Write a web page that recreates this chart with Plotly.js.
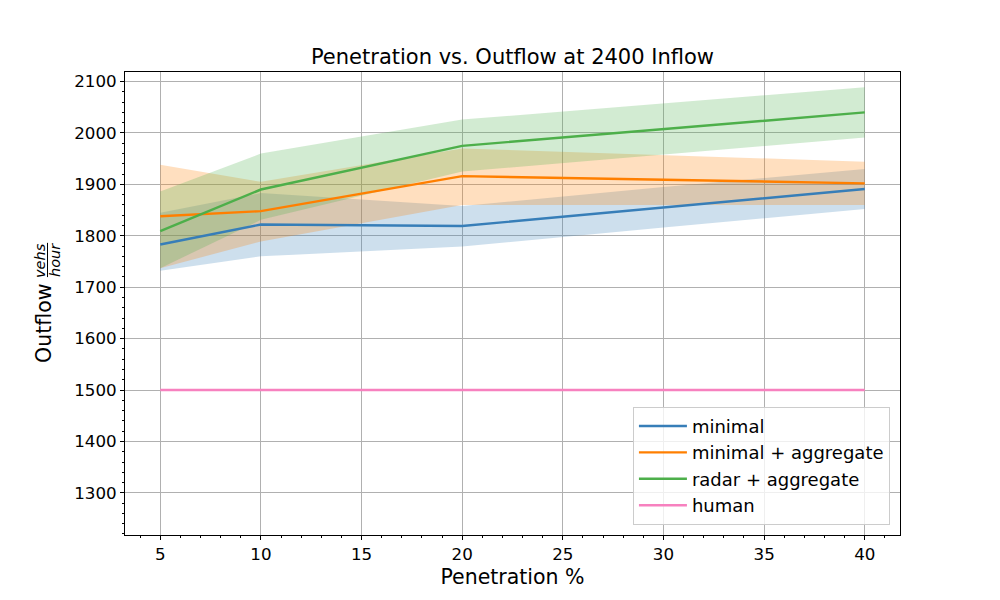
<!DOCTYPE html>
<html>
<head>
<meta charset="utf-8">
<script src="https://cdn.plot.ly/plotly-3.0.1.min.js"></script>
<style>
	body { margin: 0; background: white; }
	#outflow_graph { width: 1000px; height: 600px; }
</style>
</head>
<body>
<div id="outflow_graph"></div>
<script>
const penetration = [5, 10, 20, 30, 40];

const minimal = [1783, 1822, 1819, 1855, 1891];
const minimalLo = [1732, 1760, 1779, 1816, 1852];
const minimalHi = [1845, 1883, 1858, 1895, 1930];

const minimalAgg = [1838, 1848, 1916, 1909, 1902];
const minimalAggLo = [1737, 1789, 1860, 1860, 1860];
const minimalAggHi = [1938, 1905, 1970, 1957, 1944];

const radarAgg = [1809, 1890, 1975, 2008, 2040];
const radarAggLo = [1737, 1831, 1925, 1958, 1991];
const radarAggHi = [1886, 1960, 2026, 2058, 2089];

const human = [1500, 1500, 1500, 1500, 1500];

const FONT = 'DejaVu Sans, sans-serif';

// band first, line later so the lines stay on top
const band = (lo, hi, rgb) => ({
	x: penetration.concat(penetration.slice().reverse()),
	y: hi.concat(lo.slice().reverse()),
	type: 'scatter',
	mode: 'lines',
	fill: 'toself',
	fillcolor: 'rgba(' + rgb + ',0.25)',
	line: {width: 0},
	hoverinfo: 'skip',
	showlegend: false,
});

const line = (name, y, rgb) => ({
	x: penetration,
	y: y,
	name: name,
	type: 'scatter',
	mode: 'lines',
	line: {color: 'rgb(' + rgb + ')', width: 2.4},
});

const BLUE = '55,126,184';
const ORANGE = '255,127,0';
const GREEN = '77,175,74';
const PINK = '247,129,191';

const traces = [
	band(minimalLo, minimalHi, BLUE),
	band(minimalAggLo, minimalAggHi, ORANGE),
	band(radarAggLo, radarAggHi, GREEN),
	line('minimal', minimal, BLUE),
	line('minimal + aggregate', minimalAgg, ORANGE),
	line('radar + aggregate', radarAgg, GREEN),
	line('human', human, PINK),
];

const axis = {
	showline: true,
	mirror: true,
	linecolor: 'black',
	linewidth: 1,
	ticks: 'outside',
	ticklen: 4,
	tickwidth: 1,
	tickcolor: 'black',
	showgrid: true,
	gridcolor: '#b0b0b0',
	gridwidth: 1,
	zeroline: false,
	tickfont: {family: FONT, size: 16.7, color: 'black'},
};

const rotated = (text, x, y, size) => ({
	text: text, xref: 'paper', yref: 'paper', x: x, y: y,
	xanchor: 'center', yanchor: 'middle',
	textangle: -90, showarrow: false,
	font: {family: FONT, size: size, color: 'black'},
});

const layout = {
	width: 1000,
	height: 600,
	margin: {l: 125, r: 100, t: 72, b: 65},
	paper_bgcolor: 'white',
	plot_bgcolor: 'white',
	font: {family: FONT, color: 'black'},
	title: {
		text: 'Penetration vs. Outflow at 2400 Inflow',
		font: {family: FONT, size: 21, color: 'black'},
		x: 0.5, xref: 'paper', xanchor: 'center',
		y: 0.905, yref: 'container', yanchor: 'middle',
	},
	xaxis: Object.assign({}, axis, {
		range: [3.25, 41.75],
		tick0: 5,
		dtick: 5,
		minor: {dtick: 1, ticks: 'outside', ticklen: 2, tickcolor: 'black', showgrid: false},
		title: {text: 'Penetration %', font: {family: FONT, size: 20.5, color: 'black'}, standoff: 6},
	}),
	yaxis: Object.assign({}, axis, {
		range: [1218, 2118.6],
		tick0: 1300,
		dtick: 100,
		minor: {dtick: 20, ticks: 'outside', ticklen: 2, tickcolor: 'black', showgrid: false},
	}),
	legend: {
		x: 0.987, xanchor: 'right',
		y: 0.022, yanchor: 'bottom',
		itemwidth: 48,
		bgcolor: 'rgba(255,255,255,0.8)',
		bordercolor: '#cccccc',
		borderwidth: 1,
		font: {family: FONT, size: 18, color: 'black'},
	},
	// y label: "Outflow" with a vehs/hour fraction beside it
	annotations: [
		rotated('Outflow', -0.1045, 0.456, 20.5),
		rotated('<i>vehs</i>', -0.1097, 0.594, 14.5),
		rotated('<i>hour</i>', -0.0903, 0.594, 14.5),
	],
	shapes: [
		{type: 'line', xref: 'paper', yref: 'paper', x0: -0.1, x1: -0.1, y0: 0.557, y1: 0.631,
			line: {color: 'black', width: 1}},
	],
};

Plotly.newPlot('outflow_graph', traces, layout, {displayModeBar: false, staticPlot: true});
</script>
</body>
</html>
